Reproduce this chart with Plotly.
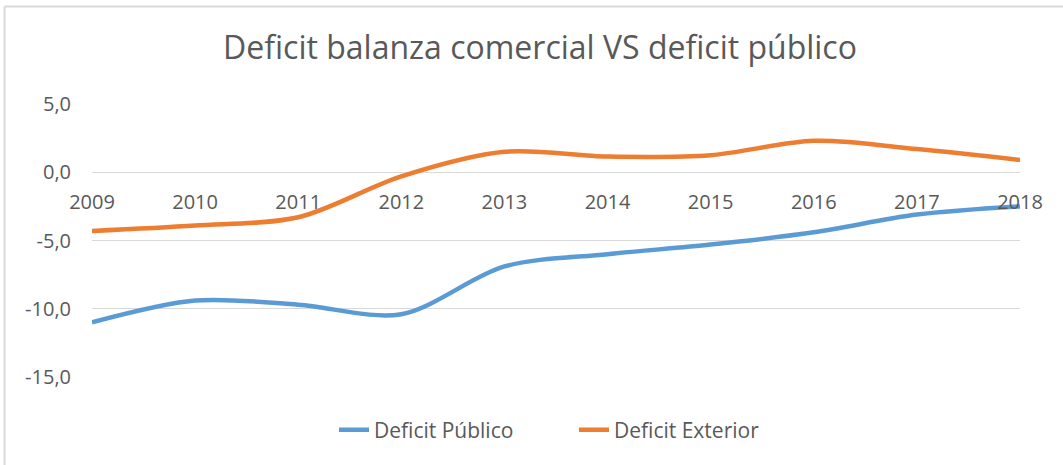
import plotly.graph_objects as go

years = [2009, 2010, 2011, 2012, 2013, 2014, 2015, 2016, 2017, 2018]
deficit_publico = [-11.0, -9.4, -9.7, -10.4, -6.9, -6.0, -5.3, -4.4, -3.1, -2.5]
deficit_exterior = [-4.3, -3.9, -3.3, -0.3, 1.5, 1.15, 1.25, 2.3, 1.7, 0.9]
y_ticks = [5, 0, -5, -10, -15]
y_tick_labels = ["5,0", "0,0", "-5,0", "-10,0", "-15,0"]

W, H = 1063, 465
L, R, T, B = 92, 1020, 104, 377

fig = go.Figure()
fig.add_trace(go.Scatter(x=years, y=deficit_publico, name="Deficit Público", mode="lines",
                         line=dict(color="#5B9BD5", width=4.5, shape="spline", smoothing=0.9)))
fig.add_trace(go.Scatter(x=years, y=deficit_exterior, name="Deficit Exterior", mode="lines",
                         line=dict(color="#ED7D31", width=4.5, shape="spline", smoothing=0.9)))

def px(x):
    return (x - L) / (R - L)

def py(y):
    return (B - y) / (B - T)

gray = "#595959"
fig.update_layout(
    width=W, height=H,
    margin=dict(l=L, r=W - R, t=T, b=H - B, autoexpand=False),
    paper_bgcolor="white", plot_bgcolor="white",
    font=dict(family="Open Sans", color=gray, size=20),
    title=dict(text="Deficit balanza comercial VS deficit público", x=540 / W, xanchor="center",
               y=1 - 48 / H, yanchor="middle", font=dict(size=32, color=gray)),
    showlegend=True,
    legend=dict(orientation="h", x=px(574), xanchor="center", y=py(430), yanchor="middle",
                font=dict(size=21, color=gray), tracegroupgap=0, entrywidth=195),
    xaxis=dict(range=[2009, 2018], tickvals=years, ticktext=[str(y) for y in years],
               showgrid=False, zeroline=False, showline=False,
               anchor="free", position=0.75, ticks="outside", ticklen=12,
               tickcolor="rgba(0,0,0,0)", tickfont=dict(size=20, color=gray)),
    yaxis=dict(range=[-15, 5], tickvals=y_ticks, ticktext=y_tick_labels,
               showgrid=True, gridcolor="#d9d9d9", gridwidth=1.3,
               zeroline=False, showline=False, ticks="outside", ticklen=16,
               tickcolor="rgba(0,0,0,0)", tickfont=dict(size=20, color=gray)),
    shapes=[
        dict(type="line", xref="paper", yref="paper", x0=px(4.5), x1=px(1070), y0=py(6.5), y1=py(6.5),
             line=dict(color="#d9d9d9", width=2)),
        dict(type="line", xref="paper", yref="paper", x0=px(4.5), x1=px(4.5), y0=py(6.5), y1=py(470),
             line=dict(color="#d9d9d9", width=2)),
    ],
)

fig.write_html("out.html", config={"displayModeBar": False},
               post_script="document.body.style.margin='0';document.body.style.overflow='hidden';")
